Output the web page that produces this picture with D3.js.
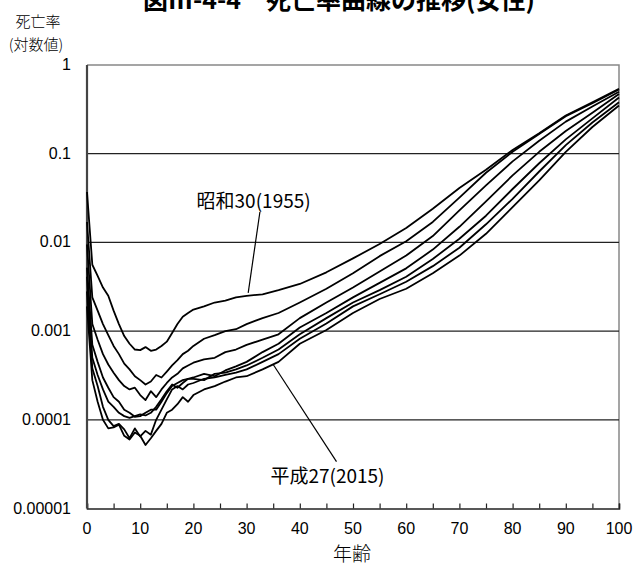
<!DOCTYPE html>
<html>
<head>
<meta charset="utf-8">
<script src="https://cdn.jsdelivr.net/npm/d3@7"></script>
<style>
  body { margin: 0; background: #fff; }
  svg { display: block; }
  .num { font-family: "Liberation Sans", Arial, sans-serif; font-size: 16px; fill: #000; }
  .jp { font-family: "Noto Sans CJK JP", sans-serif; fill: #000; }
</style>
</head>
<body>
<svg id="chart" width="633" height="568"></svg>
<script>
// ages shared by every curve
const ages = [0,1,2,3,4,5,6,7,8,9,10,11,12,13,14,15,16,17,18,19,20,
              22,24,26,28,30,33,36,40,45,50,55,60,65,70,75,80,85,90,95,100];

// female death rates, one array per year
const s1955 = [0.037,0.0056,0.0042,0.0031,0.0025,0.0017,0.0012,0.00088,0.00072,0.00062,0.00061,0.00066,0.0006,0.00062,0.00068,0.00076,0.00095,0.0012,0.00145,0.0016,0.00175,
               0.0019,0.0021,0.0022,0.0024,0.0025,0.0026,0.0029,0.0034,0.0046,0.0066,0.0096,0.0145,0.024,0.041,0.066,0.11,0.17,0.27,0.38,0.54];
const s1965 = [0.017,0.0024,0.0017,0.0012,0.0009,0.00068,0.00055,0.00043,0.00037,0.00031,0.00028,0.00025,0.00027,0.00032,0.0003,0.00035,0.00041,0.00047,0.00055,0.0006,0.00068,
               0.00082,0.0009,0.001,0.00105,0.0012,0.0014,0.0016,0.0021,0.003,0.0045,0.007,0.0103,0.017,0.032,0.061,0.105,0.167,0.265,0.37,0.53];
const s1975 = [0.0095,0.0012,0.0008,0.00055,0.00042,0.00034,0.00028,0.00024,0.00022,0.00023,0.00019,0.000167,0.00021,0.00018,0.00022,0.00026,0.0003,0.00033,0.00038,0.00041,0.00044,
               0.00048,0.0005,0.00058,0.00062,0.0007,0.0008,0.00092,0.0014,0.0021,0.0031,0.0047,0.0071,0.0118,0.023,0.044,0.082,0.14,0.23,0.34,0.5];
const s1985 = [0.0052,0.0007,0.00045,0.0003,0.00023,0.00018,0.00016,0.00013,0.00012,0.000108,0.00011,0.00012,0.00013,0.00013,0.00016,0.0002,0.00024,0.00026,0.00028,0.00029,0.0003,
               0.00033,0.00031,0.00036,0.0004,0.00045,0.00058,0.00072,0.0011,0.0016,0.0024,0.0035,0.0051,0.0083,0.015,0.029,0.057,0.105,0.18,0.29,0.47];
const s1995 = [0.0041,0.0005,0.00032,0.00022,0.00016,0.00014,0.00012,0.00011,0.000105,0.00011,0.000115,0.000112,0.00012,0.00014,0.00017,0.00021,0.00025,0.00023,0.00026,0.00029,0.00029,
               0.00028,0.00033,0.00034,0.00037,0.00041,0.0005,0.00062,0.00092,0.0014,0.0021,0.0029,0.0041,0.0065,0.011,0.02,0.04,0.078,0.145,0.25,0.43];
const s2005 = [0.0028,0.00038,0.00024,0.00014,0.0001,0.000085,0.00009,0.000078,0.000062,0.00008,0.000065,0.000075,0.000068,0.0001,0.00013,0.00017,0.00022,0.00024,0.00022,0.00025,0.00026,
               0.00029,0.0003,0.00032,0.00034,0.00037,0.00045,0.00055,0.00082,0.00122,0.0019,0.0026,0.0036,0.0054,0.0087,0.016,0.031,0.063,0.125,0.225,0.38];
const s2015 = [0.0019,0.00028,0.00016,0.0001,0.00008,0.000082,0.000088,0.000066,0.00006,0.000072,0.000066,0.000052,0.000062,0.000075,0.00009,0.00012,0.00013,0.00015,0.00018,0.00016,0.00019,
               0.00022,0.00024,0.00027,0.0003,0.00031,0.00037,0.00045,0.00072,0.00103,0.0016,0.0023,0.003,0.0045,0.0071,0.0125,0.025,0.05,0.105,0.2,0.35];

const seriesList = [s1955, s1965, s1975, s1985, s1995, s2005, s2015];

const xTicks = [0,10,20,30,40,50,60,70,80,90,100];
const yTicks = [1, 0.1, 0.01, 0.001, 0.0001, 0.00001];
const yTickLabels = ["1", "0.1", "0.01", "0.001", "0.0001", "0.00001"];

// callouts: label position and leader line, all in data units
const notes = [
  { text: "昭和30(1955)", age: 20.6, val: 0.0245, anchor: "start", from: [32.5, 0.022], to: [30.3, 0.0027] },
  { text: "平成27(2015)", age: 45.2, val: 0.0000194, anchor: "middle", from: [46.9, 0.0000337], to: [35.0, 0.00042] }
];

const svg = d3.select("#chart");
const plotL = 87, plotR = 619, plotT = 65, plotB = 508.5;

const x = d3.scaleLinear().domain([0, 100]).range([plotL, plotR]);
const y = d3.scaleLog().domain([0.00001, 1]).range([plotB, plotT]);

// title (sits partly above the frame, like the source)
svg.append("text").attr("class", "jp")
  .attr("x", 339).attr("y", 9)
  .attr("text-anchor", "middle")
  .style("font-size", "25px").style("font-weight", "bold")
  .text("図Ⅲ-4-4　死亡率曲線の推移(女性)");

// y-axis title
svg.append("text").attr("class", "jp").attr("x", 38).attr("y", 27)
  .attr("text-anchor", "middle").style("font-size", "15px").style("font-weight", 300).text("死亡率");
svg.append("text").attr("class", "jp").attr("x", 36).attr("y", 50)
  .attr("text-anchor", "middle").style("font-size", "15px").style("font-weight", 300).text("(対数値)");

// frame: top and right in grey
svg.append("path")
  .attr("d", `M${plotL},${plotT}H${plotR}V${plotB}`)
  .attr("fill", "none").attr("stroke", "#888").attr("stroke-width", 1.5);

// horizontal gridlines
svg.append("g").selectAll("line")
  .data(yTicks.slice(1, -1))
  .join("line")
    .attr("x1", plotL).attr("x2", plotR)
    .attr("y1", d => y(d)).attr("y2", d => y(d))
    .attr("stroke", "#222").attr("stroke-width", 1.2);

// y axis labels
svg.append("g").selectAll("text")
  .data(yTicks)
  .join("text")
    .attr("class", "num")
    .attr("x", 71).attr("y", d => y(d) + 5)
    .attr("text-anchor", "end")
    .text((d, i) => yTickLabels[i]);

// x axis: minor ticks every 5 years pointing up
const xAxis = d3.axisBottom(x).tickValues(d3.range(0, 101, 5)).tickSize(-5).tickFormat("");
const gx = svg.append("g").attr("transform", `translate(0,${plotB})`).call(xAxis);
gx.select(".domain").attr("stroke", "#222").attr("stroke-width", 1.6);
gx.selectAll(".tick line").attr("stroke", "#222").attr("stroke-width", 1.2);

svg.append("g").selectAll("text")
  .data(xTicks)
  .join("text")
    .attr("class", "num")
    .attr("x", d => x(d)).attr("y", plotB + 25)
    .attr("text-anchor", "middle")
    .text(d => d);

// left axis line
svg.append("line")
  .attr("x1", plotL).attr("x2", plotL).attr("y1", plotT).attr("y2", plotB)
  .attr("stroke", "#444").attr("stroke-width", 2.2);

svg.append("text").attr("class", "jp")
  .attr("x", 352).attr("y", 561)
  .attr("text-anchor", "middle").style("font-size", "19px").style("font-weight", 300)
  .text("年齢");

// curves
const line = d3.line()
  .x((d, i) => x(ages[i]))
  .y(d => y(d));

svg.append("g").selectAll("path")
  .data(seriesList)
  .join("path")
    .attr("d", line)
    .attr("fill", "none")
    .attr("stroke", "#000")
    .attr("stroke-width", 1.8)
    .attr("stroke-linejoin", "round");

// callouts
notes.forEach(n => {
  svg.append("line")
    .attr("x1", x(n.from[0])).attr("y1", y(n.from[1]))
    .attr("x2", x(n.to[0])).attr("y2", y(n.to[1]))
    .attr("stroke", "#000").attr("stroke-width", 1.2);
  svg.append("text")
    .attr("x", x(n.age)).attr("y", y(n.val))
    .attr("text-anchor", n.anchor)
    .style("font-family", "'Noto Sans CJK JP', sans-serif")
    .style("font-size", "19px")
    .text(n.text);
});
</script>
</body>
</html>
